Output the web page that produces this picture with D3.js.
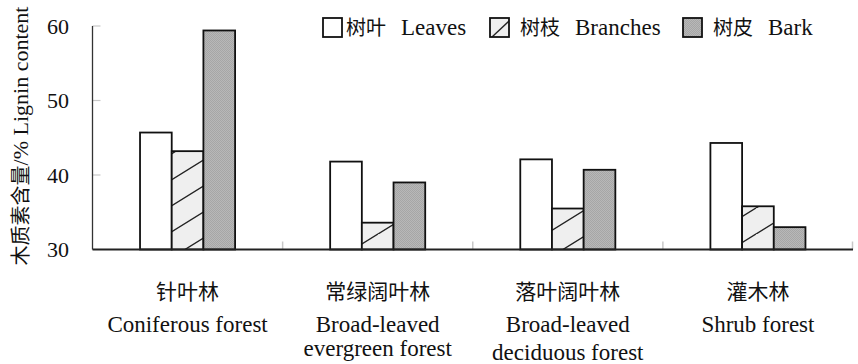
<!DOCTYPE html>
<html>
<head>
<meta charset="utf-8">
<script src="https://cdn.jsdelivr.net/npm/d3@7"></script>
<style>
html,body{margin:0;padding:0;background:#fff;}
svg{display:block;}
</style>
</head>
<body>
<svg id="chart" width="858" height="364"></svg>
<script>
const categories = ["针叶林|Coniferous forest", "常绿阔叶林|Broad-leaved|evergreen forest", "落叶阔叶林|Broad-leaved|deciduous forest", "灌木林|Shrub forest"];
const seriesNames = ["Leaves", "Branches", "Bark"];
const seriesLabelsZh = ["树叶", "树枝", "树皮"];
const leaves = [45.7, 41.8, 42.1, 44.3];
const branches = [43.2, 33.6, 35.5, 35.8];
const bark = [59.4, 39.0, 40.7, 33.0];
const yTicks = [30, 40, 50, 60];

const SERIF = "'Liberation Serif', 'Times New Roman', serif";
const CJK = "'Noto Sans CJK SC', 'Noto Sans CJK JP', sans-serif";

const values = [leaves, branches, bark];
const svg = d3.select("#chart");
const defs = svg.append("defs");

const pb = defs.append("pattern").attr("id","pBranch").attr("patternUnits","userSpaceOnUse")
  .attr("width",42).attr("height",26);
pb.append("rect").attr("width",42).attr("height",26).attr("fill","#efefef");
pb.append("path").attr("d","M-42,52 L42,0 M0,26 L42,0 M0,52 L84,0 M-42,26 L0,0")
  .attr("stroke","#222").attr("stroke-width",1.4).attr("fill","none");

const pbl = defs.append("pattern").attr("id","pBranchLegend").attr("patternUnits","objectBoundingBox")
  .attr("width",1).attr("height",1);
pbl.append("rect").attr("width",19).attr("height",19).attr("fill","#efefef");
pbl.append("path").attr("d","M2,19 L19,3").attr("stroke","#222").attr("stroke-width",1.4);

const pk = defs.append("pattern").attr("id","pBark").attr("patternUnits","userSpaceOnUse")
  .attr("width",2).attr("height",2);
pk.append("rect").attr("width",2).attr("height",2).attr("fill","#b8b8b8");
pk.append("rect").attr("width",1).attr("height",1).attr("fill","#a6a6a6");
pk.append("rect").attr("x",1).attr("y",1).attr("width",1).attr("height",1).attr("fill","#a6a6a6");

const fills = ["#ffffff", "url(#pBranch)", "url(#pBark)"];
const legendFills = ["#ffffff", "url(#pBranchLegend)", "url(#pBark)"];

const x0 = 92.5, x1 = 853, yTop = 26, yBot = 249.5;
const x = d3.scaleBand().domain(categories).range([x0, x1]).padding(0);
const xs = d3.scaleBand().domain(seriesNames).range([0, x.bandwidth()]).paddingInner(0).paddingOuter(1.5);
const y = d3.scaleLinear().domain([30, 60]).range([yBot, yTop]);

svg.append("g").selectAll("line").data(yTicks.slice(1)).join("line")
  .attr("x1", x0).attr("x2", x0 + 8)
  .attr("y1", d => y(d)).attr("y2", d => y(d))
  .attr("stroke", "#c8c8c8").attr("stroke-width", 1.2);

svg.append("g").selectAll("line").data(categories.slice(1).concat(["end"])).join("line")
  .attr("x1", (d,i) => i < 3 ? x(d) : x1 - 0.5).attr("x2", (d,i) => i < 3 ? x(d) : x1 - 0.5)
  .attr("y1", yBot - 8).attr("y2", yBot)
  .attr("stroke", "#c8c8c8").attr("stroke-width", 1.5);

categories.forEach((c, ci) => {
  seriesNames.forEach((s, si) => {
    const v = values[si][ci];
    svg.append("rect")
      .attr("x", x(c) + xs(s))
      .attr("y", y(v))
      .attr("width", xs.bandwidth())
      .attr("height", yBot - y(v))
      .attr("fill", fills[si])
      .attr("stroke", "#111").attr("stroke-width", 1.8);
  });
});

svg.append("line").attr("x1", x0).attr("x2", x0).attr("y1", yTop).attr("y2", yBot)
  .attr("stroke", "#333").attr("stroke-width", 1.3);
svg.append("line").attr("x1", x0).attr("x2", x1).attr("y1", yBot).attr("y2", yBot)
  .attr("stroke", "#222").attr("stroke-width", 1.8);

svg.append("g").selectAll("text").data(yTicks).join("text")
  .style("font-family", SERIF)
  .attr("x", 69).attr("y", d => y(d)).attr("dy", "0.35em")
  .attr("text-anchor", "end").attr("font-size", 22).attr("fill","#111")
  .text(d => d);

const yt = svg.append("text").attr("transform", "translate(28,136) rotate(-90)")
  .attr("text-anchor", "middle").attr("font-size", 22).attr("fill","#111")
  .style("font-family", SERIF);
yt.append("tspan").style("font-family", CJK).attr("font-size",20).text("木质素含量");
yt.append("tspan").style("font-family", SERIF).text("/%  Lignin content");

const lineY = [[299, 332], [299, 332, 356], [299, 332, 360], [299, 332]];
categories.forEach((c, ci) => {
  const parts = c.split("|");
  const cx = x(c) + x.bandwidth() / 2;
  parts.forEach((p, pi) => {
    svg.append("text")
      .style("font-family", pi === 0 ? CJK : SERIF)
      .attr("x", cx).attr("y", lineY[ci][pi])
      .attr("text-anchor", "middle")
      .attr("font-size", pi === 0 ? 21 : 23).attr("fill", "#111")
      .text(p);
  });
});

const legX = [323, 490, 683];
seriesNames.forEach((s, i) => {
  const g = svg.append("g").attr("transform", `translate(${legX[i]},18)`);
  g.append("rect").attr("width", 19).attr("height", 19)
    .attr("fill", legendFills[i]).attr("stroke", "#111").attr("stroke-width", 1.8);
  const t = g.append("text").attr("x", i === 0 ? 23 : 30).attr("y", 17).attr("font-size", 23).attr("fill","#111")
    .style("font-family", SERIF);
  t.append("tspan").style("font-family", CJK).attr("font-size",20).text(seriesLabelsZh[i]);
  t.append("tspan").style("font-family", SERIF).attr("dx", 15).attr("font-size",23).text(s);
});
</script>
</body>
</html>
